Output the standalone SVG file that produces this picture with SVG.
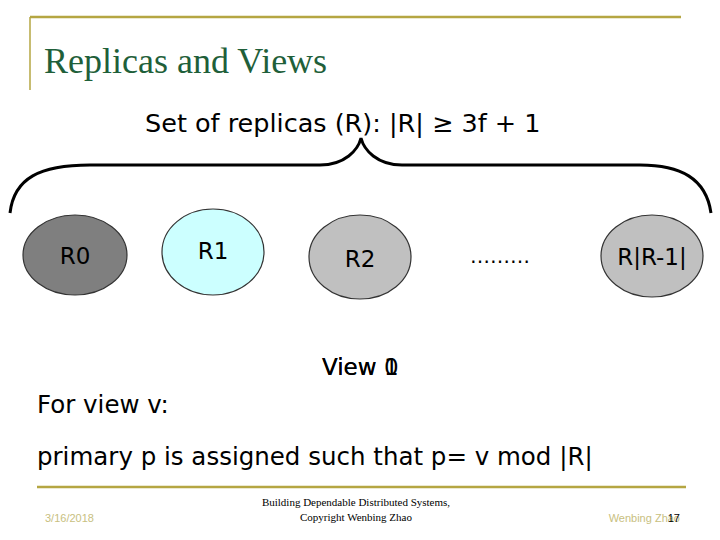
<svg xmlns="http://www.w3.org/2000/svg" width="720" height="540" viewBox="0 0 720 540">
<style>
.n{stroke:#333;stroke-width:1.2}
.t{font-family:"DejaVu Sans",sans-serif;font-size:23px;fill:#000;text-anchor:middle}
.f{font-family:"Liberation Serif",serif;font-size:11px;fill:#000;text-anchor:middle}
</style>
<rect width="720" height="540" fill="#fff"/>
<g fill="none" stroke="#b5a642" stroke-width="2.5">
<path d="M30 17H681"/><path d="M30 17V90" stroke-width="1.5"/><path d="M37 487H686"/>
</g>
<text x="44" y="73" font-family="Liberation Serif,serif" font-size="36" fill="#1f5f3a">Replicas and Views</text>
<text x="145" y="132" font-family="DejaVu Sans,sans-serif" font-size="25.5">Set of replicas (R): |R| ≥ 3f + 1</text>
<g id="conn"><path d="M10 213C14 178 40 165 90 165H320C345 165 358 150 361 138C364 150 377 165 402 165H640C680 165 706 178 711 213" fill="none" stroke="#000" stroke-width="3"/></g>
<g id="r0"><ellipse class="n" cx="75" cy="255" rx="52" ry="40" fill="#7f7f7f"/><text class="t" x="75" y="264">R0</text></g>
<g id="r1"><ellipse class="n" cx="213" cy="252" rx="51" ry="43" fill="#ccffff"/><text class="t" x="213" y="259">R1</text></g>
<g id="r2"><ellipse class="n" cx="360" cy="257" rx="51" ry="42" fill="#c0c0c0"/><text class="t" x="360" y="267">R2</text></g>
<text x="500" y="263" font-family="DejaVu Sans,sans-serif" font-size="20" text-anchor="middle">………</text>
<g id="rn"><ellipse class="n" cx="652" cy="256" rx="51" ry="41" fill="#c0c0c0"/><text class="t" x="652" y="265">R|R-1|</text></g>
<text x="322" y="375" font-family="DejaVu Sans,sans-serif" font-size="23">View 0</text>
<text x="322" y="375" font-family="DejaVu Sans,sans-serif" font-size="23">View 1</text>
<text x="37" y="413" font-family="DejaVu Sans,sans-serif" font-size="24.5">For view v:</text>
<text x="37" y="465" font-family="DejaVu Sans,sans-serif" font-size="24.5">primary p is assigned such that p= v mod |R|</text>
<text x="45" y="522" font-family="Liberation Sans,sans-serif" font-size="11" fill="#c8c080">3/16/2018</text>
<text class="f" x="356" y="506">Building Dependable Distributed Systems,</text>
<text class="f" x="356" y="521">Copyright Wenbing Zhao</text>
<text x="680" y="522" font-family="Liberation Sans,sans-serif" font-size="11" fill="#c8c080" text-anchor="end">Wenbing Zhao</text>
<text x="680" y="522" font-family="Liberation Sans,sans-serif" font-size="11" text-anchor="end">17</text>
</svg>
